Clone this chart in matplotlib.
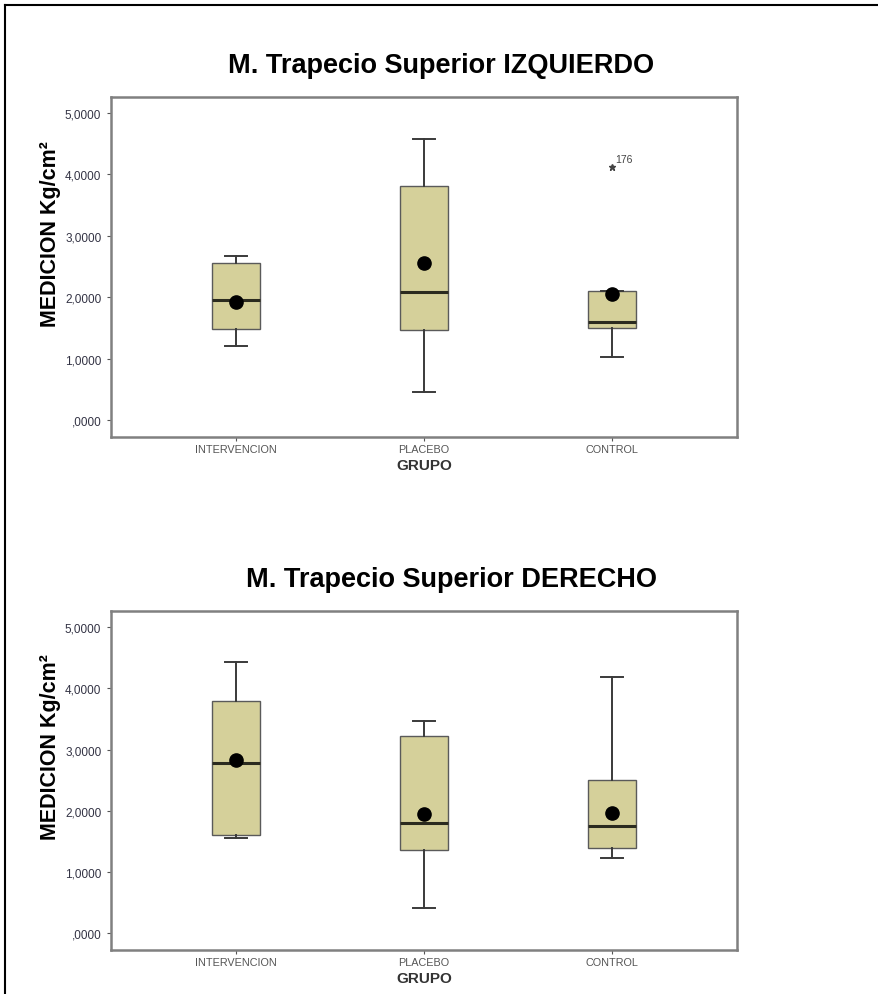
import matplotlib
matplotlib.use("Agg")
import matplotlib.pyplot as plt
from matplotlib.lines import Line2D

plt.rcParams['font.family'] = ['Liberation Sans', 'DejaVu Sans']

# Datos (Kg/cm2)
grupos = ["INTERVENCION", "PLACEBO", "CONTROL"]

izq_whislo = [1.21, 0.46, 1.03]
izq_q1 = [1.48, 1.47, 1.50]
izq_med = [1.95, 2.08, 1.60]
izq_q3 = [2.56, 3.81, 2.10]
izq_whishi = [2.67, 4.57, 2.10]
izq_media = [1.92, 2.56, 2.05]
izq_atipicos = [[], [], [4.13]]
izq_etiquetas = [[], [], ["176"]]

der_whislo = [1.55, 0.42, 1.23]
der_q1 = [1.60, 1.36, 1.39]
der_med = [2.78, 1.80, 1.75]
der_q3 = [3.79, 3.22, 2.51]
der_whishi = [4.44, 3.47, 4.18]
der_media = [2.83, 1.94, 1.96]
der_atipicos = [[], [], []]
der_etiquetas = [[], [], []]

y_ticks = [0, 1, 2, 3, 4, 5]
y_ticklabels = [",0000", "1,0000", "2,0000", "3,0000", "4,0000", "5,0000"]

titulos = ["M. Trapecio Superior IZQUIERDO", "M. Trapecio Superior DERECHO"]

color_caja = "#D5D09A"
color_borde = "#808080"

fig = plt.figure(figsize=(8.79, 9.95), dpi=100)


def dibujar(ax, whislo, q1, med, q3, whishi, media, atipicos, etiquetas):
    stats = []
    for i, g in enumerate(grupos):
        stats.append({
            "label": g,
            "whislo": whislo[i],
            "q1": q1[i],
            "med": med[i],
            "q3": q3[i],
            "whishi": whishi[i],
            "mean": media[i],
            "fliers": atipicos[i],
        })
    pos = [1, 2, 3]
    ax.bxp(stats, positions=pos, widths=0.255, patch_artist=True,
           showmeans=True, showfliers=True,
           boxprops=dict(facecolor=color_caja, edgecolor="#5a5a5a", linewidth=1.0),
           medianprops=dict(color="#2b2b1f", linewidth=2.2),
           whiskerprops=dict(color="#3a3a3a", linewidth=1.4),
           capprops=dict(color="#3a3a3a", linewidth=1.4),
           capwidths=0.12,
           meanprops=dict(marker="o", markerfacecolor="black", markeredgecolor="black",
                          markersize=9.5),
           flierprops=dict(marker="*", markersize=5, markerfacecolor="#444444",
                           markeredgecolor="#444444"))
    for i in range(3):
        for v, t in zip(atipicos[i], etiquetas[i]):
            ax.annotate(t, (pos[i], v), xytext=(2, 3), textcoords="offset points",
                        fontsize=7.5, color="#444444")
    ax.set_xlim(0.335, 3.665)
    ax.set_ylim(-0.27, 5.27)
    ax.set_yticks(y_ticks)
    ax.set_yticklabels(y_ticklabels, fontsize=8.5, color="#333344")
    ax.set_xticks(pos)
    ax.set_xticklabels(grupos, fontsize=7.8, color="#555555")
    ax.tick_params(axis="both", length=3, width=0.8, color="#555555")
    ax.tick_params(axis="y", pad=4)
    ax.tick_params(axis="x", pad=2)
    for s in ax.spines.values():
        s.set_color(color_borde)
        s.set_linewidth(1.8)
    ax.set_ylabel("MEDICION Kg/cm²", fontsize=15.5, fontweight="bold")
    ax.yaxis.set_label_coords(-0.08, 0.6)
    ax.set_xlabel("GRUPO", fontsize=11, fontweight="bold", color="#333333", labelpad=3)


ax1 = fig.add_axes([0.1263, 0.5601, 0.7122, 0.3419])
dibujar(ax1, izq_whislo, izq_q1, izq_med, izq_q3, izq_whishi, izq_media,
        izq_atipicos, izq_etiquetas)
ax2 = fig.add_axes([0.1263, 0.0445, 0.7122, 0.3407])
dibujar(ax2, der_whislo, der_q1, der_med, der_q3, der_whishi, der_media,
        der_atipicos, der_etiquetas)

fig.text(0.502, 0.934, titulos[0], fontsize=19.5, fontweight="bold",
         ha="center", va="center")
fig.text(0.514, 0.417, titulos[1], fontsize=19.5, fontweight="bold",
         ha="center", va="center")

# marco exterior (solo borde izquierdo y superior visibles)
fig.add_artist(Line2D([0.0057, 0.0057], [0.0, 0.9943], transform=fig.transFigure,
                      color="black", linewidth=1.5))
fig.add_artist(Line2D([0.0057, 1.0], [0.9943, 0.9943], transform=fig.transFigure,
                      color="black", linewidth=1.5))

plt.savefig("out.png", dpi=100)
